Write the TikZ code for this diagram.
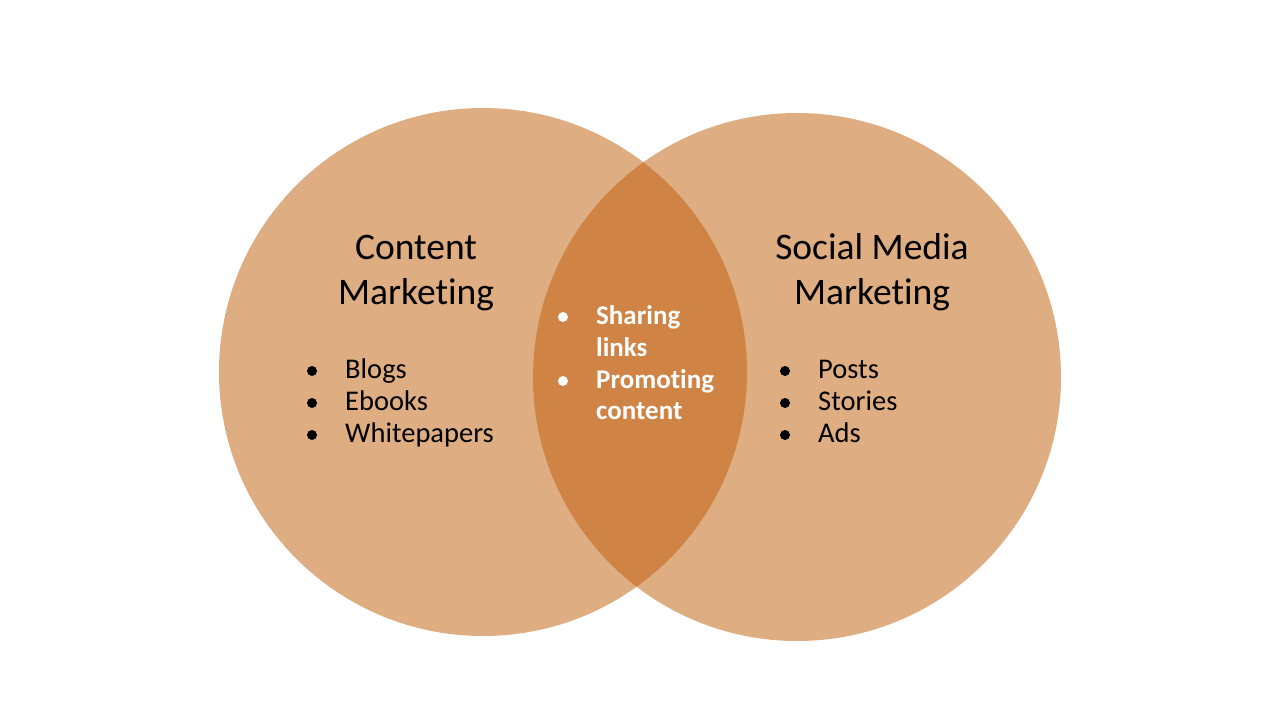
\documentclass[tikz,border=0pt]{standalone}
\usepackage{fontspec}
\setmainfont[Ligatures=NoCommon]{Carlito}
\usetikzlibrary{positioning}

\definecolor{lightorange}{RGB}{223,173,130}
\definecolor{darkorange}{RGB}{207,131,68}

\tikzset{
  titletext/.style={align=center,font=\fontsize{37.5}{45}\selectfont,inner sep=0pt},
  itemtext/.style={anchor=base west,font=\fontsize{28.5}{32}\selectfont,inner sep=0pt},
  midtext/.style={anchor=base west,font=\fontsize{27}{32}\selectfont\bfseries,text=white,inner sep=0pt}
}

\begin{document}
\begin{tikzpicture}[x=1pt,y=-1pt]
	\useasboundingbox (0,0) rectangle (1280,720);
	
	%circles
	\fill[lightorange] (483,372) circle (264);
	\fill[lightorange] (797,377) circle (264);
	\begin{scope}
		\clip (483,372) circle (264);
		\fill[darkorange] (797,377) circle (264);
	\end{scope}
	
	%titles
	\node[titletext,anchor=base] (cm1) at (416,259) {Content};
	\node[titletext,anchor=base] (cm2) at (416,304) {Marketing};
	\node[titletext,anchor=base] (sm1) at (872,259) {Social Media};
	\node[titletext,anchor=base] (sm2) at (872,304) {Marketing};
	
	%left list
	\foreach \txt/\y/\nm in {Blogs/378/blogs,Ebooks/410/ebooks,Whitepapers/442/white}{
		\fill (312,\y-7) circle (5);
		\node[itemtext] (\nm) at (345,\y) {\txt};
	}
	
	%right list
	\foreach \txt/\y/\nm in {Posts/378/posts,Stories/410/stories,Ads/442/ads}{
		\fill (785,\y-7) circle (5);
		\node[itemtext] (\nm) at (818,\y) {\txt};
	}
	
	%overlap list
	\fill[white] (563,317) circle (5);
	\fill[white] (563,381) circle (5);
	\node[midtext] (share1) at (596,324) {Sharing};
	\node[midtext] (share2) at (596,356) {links};
	\node[midtext] (promo1) at (596,388) {Promoting};
	\node[midtext] (promo2) at (596,419) {content};
	
\end{tikzpicture}
\end{document}
